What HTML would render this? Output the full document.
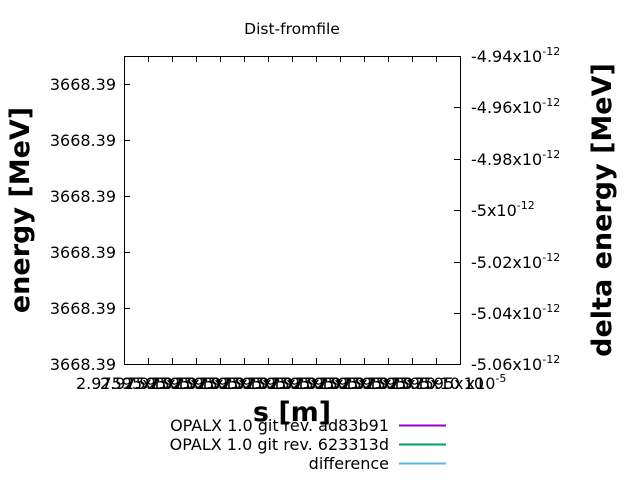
<!DOCTYPE html><html><head><style>body{margin:0;background:#fff}svg{display:block}text{font-family:"DejaVu Sans","Liberation Sans",sans-serif}</style></head><body>
<svg width="640" height="480" xmlns="http://www.w3.org/2000/svg">
<text x="292" y="34" font-size="15.5" text-anchor="middle">Dist-fromfile</text>
<rect x="124.5" y="56.5" width="336" height="308" fill="none" stroke="#000" stroke-width="1"/>
<g stroke="#000" stroke-width="1">
<path d="M148.5 364v-6M172.5 364v-6M196.5 364v-6M220.5 364v-6M244.5 364v-6M268.5 364v-6M292.5 364v-6M316.5 364v-6M340.5 364v-6M364.5 364v-6M388.5 364v-6M412.5 364v-6M436.5 364v-6"/>
<path d="M148.5 56v6M172.5 56v6M196.5 56v6M220.5 56v6M244.5 56v6M268.5 56v6M292.5 56v6M316.5 56v6M340.5 56v6M364.5 56v6M388.5 56v6M412.5 56v6M436.5 56v6"/>
<path d="M124 84.5h6M124 140.5h6M124 196.5h6M124 252.5h6M124 308.5h6"/>
<path d="M460 107.5h-6M460 159.5h-6M460 210.5h-6M460 262.5h-6M460 313.5h-6"/>
</g>
<g font-size="16" text-anchor="end">
<text x="116" y="90">3668.39</text><text x="116" y="146">3668.39</text><text x="116" y="202">3668.39</text><text x="116" y="258">3668.39</text><text x="116" y="314">3668.39</text><text x="116" y="370">3668.39</text>
</g>
<g font-size="16">
<text x="471" y="62">-4.94x10<tspan font-size="11" dy="-7">-12</tspan></text>
<text x="471" y="113">-4.96x10<tspan font-size="11" dy="-7">-12</tspan></text>
<text x="471" y="165">-4.98x10<tspan font-size="11" dy="-7">-12</tspan></text>
<text x="471" y="216">-5x10<tspan font-size="11" dy="-7">-12</tspan></text>
<text x="471" y="268">-5.02x10<tspan font-size="11" dy="-7">-12</tspan></text>
<text x="471" y="319">-5.04x10<tspan font-size="11" dy="-7">-12</tspan></text>
<text x="471" y="370">-5.06x10<tspan font-size="11" dy="-7">-12</tspan></text>
</g>
<g font-size="16" text-anchor="middle">
<text x="124" y="389">2.97595x10</text><text x="148" y="389">2.97595x10</text><text x="172" y="389">2.97595x10</text><text x="196" y="389">2.97595x10</text><text x="220" y="389">2.97595x10</text><text x="244" y="389">2.97595x10</text><text x="268" y="389">2.97595x10</text><text x="292" y="389">2.97595x10</text><text x="316" y="389">2.97595x10</text><text x="340" y="389">2.97595x10</text><text x="364" y="389">2.97595x10</text><text x="388" y="389">2.97595x10</text><text x="412" y="389">2.97595x10</text><text x="436" y="389">2.97595x10</text><text x="486" y="389">x10<tspan font-size="11" dy="-7">-5</tspan></text>
</g>
<text x="292" y="421" font-size="27" font-weight="bold" text-anchor="middle">s [m]</text>
<text transform="translate(29,210) rotate(-90)" font-size="27" font-weight="bold" text-anchor="middle">energy [MeV]</text>
<text transform="translate(611,210) rotate(-90)" font-size="27" font-weight="bold" text-anchor="middle">delta energy [MeV]</text>
<g font-size="16" text-anchor="end">
<text x="389" y="431">OPALX 1.0 git rev. ad83b91</text>
<text x="389" y="450">OPALX 1.0 git rev. 623313d</text>
<text x="389" y="469">difference</text>
</g>
<g stroke-width="2">
<path d="M399 425.5h47" stroke="#9400d3"/>
<path d="M399 444.5h47" stroke="#009e73"/>
<path d="M399 463.5h47" stroke="#56b4e9"/>
</g>
</svg></body></html>
